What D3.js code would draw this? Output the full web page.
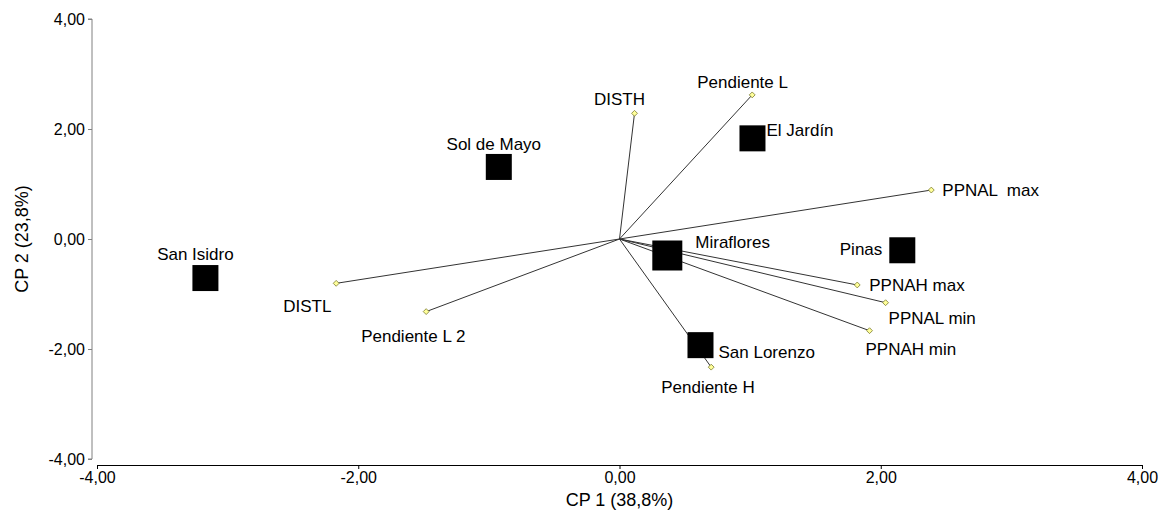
<!DOCTYPE html>
<html>
<head>
<meta charset="utf-8">
<script src="https://cdn.jsdelivr.net/npm/d3@7"></script>
<style>
  html, body { margin: 0; padding: 0; background: #fff; }
  svg text { font-family: "Liberation Sans", Arial, sans-serif; }
</style>
</head>
<body>
<svg id="chart" width="1174" height="513"></svg>
<script>
// ---- data ----
const variables = ["DISTH", "Pendiente L", "PPNAL  max", "PPNAH max", "PPNAL min", "PPNAH min", "DISTL", "Pendiente L 2", "Pendiente H"];
const varCP1 = [0.115, 1.016, 2.387, 1.82, 2.037, 1.914, -2.169, -1.48, 0.702];
const varCP2 = [2.285, 2.62, 0.89, -0.836, -1.158, -1.667, -0.806, -1.32, -2.33];

const sites = ["El Jardín", "Miraflores", "Pinas", "San Lorenzo", "Sol de Mayo", "San Isidro"];
const siteCP1 = [1.018, 0.366, 2.165, 0.62, -0.924, -3.17];
const siteCP2 = [1.83, -0.3, -0.205, -1.93, 1.31, -0.71];

const xTicks = [-4, -2, 0, 2, 4];
const yTicks = [-4, -2, 0, 2, 4];
const xTickLabels = ["-4,00", "-2,00", "0,00", "2,00", "4,00"];
const yTickLabels = ["-4,00", "-2,00", "0,00", "2,00", "4,00"];
const xTitle = "CP 1 (38,8%)";
const yTitle = "CP 2 (23,8%)";

// ---- label placement (presentation only) ----
const varLabelPos = {
  "DISTH": [-15, -8, "middle"],
  "Pendiente L": [-55, -7, "start"],
  "PPNAL  max": [11, 6, "start"],
  "PPNAH max": [12, 6, "start"],
  "PPNAL min": [3, 21, "start"],
  "PPNAH min": [-4, 24, "start"],
  "DISTL": [-53, 29, "start"],
  "Pendiente L 2": [-65, 30, "start"],
  "Pendiente H": [-50, 26, "start"]
};
const siteLabelPos = {
  "El Jardín": [14, -2, "start"],
  "Miraflores": [28, -8, "start"],
  "Pinas": [-20, 5, "end"],
  "San Lorenzo": [18, 13, "start"],
  "Sol de Mayo": [-5, -17, "middle"],
  "San Isidro": [-10, -18, "middle"]
};
const siteSize = { "Miraflores": 30 };

// ---- drawing ----
const svg = d3.select("#chart");
const x = d3.scaleLinear().domain([-4, 4]).range([97, 1142]);
const y = d3.scaleLinear().domain([-4, 4]).range([459, 19]);
const FS_TICK = 16, FS_LABEL = 17, FS_TITLE = 18;
const FONT = '"Liberation Sans", Arial, sans-serif';

// y axis
const yAxis = svg.append("g").attr("transform", "translate(92,0)")
  .call(d3.axisLeft(y).tickValues(yTicks).tickSize(4).tickPadding(3)
    .tickFormat((d, i) => yTickLabels[i]));
yAxis.select(".domain").attr("stroke", "#808080").attr("d", `M-4,${y(4)}H0V${y(-4)}H-4`);
yAxis.selectAll(".tick line").attr("stroke", "#808080");
yAxis.selectAll("text").attr("font-size", FS_TICK).attr("fill", "#000").style("font-family", FONT);

// x axis
const xAxis = svg.append("g").attr("transform", "translate(0,465)")
  .call(d3.axisBottom(x).tickValues(xTicks).tickSize(4).tickPadding(3)
    .tickFormat((d, i) => xTickLabels[i]));
xAxis.select(".domain").attr("stroke", "#000");
xAxis.selectAll(".tick line").attr("stroke", "#000");
xAxis.selectAll("text").attr("font-size", FS_TICK).attr("fill", "#000").style("font-family", FONT);

// axis titles
svg.append("text").attr("x", x(0)).attr("y", 506).attr("text-anchor", "middle")
  .attr("font-size", FS_TITLE).text(xTitle);
svg.append("text").attr("transform", `translate(28,${y(0)}) rotate(-90)`)
  .attr("text-anchor", "middle").attr("font-size", FS_TITLE).text(yTitle);

// vectors
const vars = variables.map((n, i) => ({ name: n, cx: varCP1[i], cy: varCP2[i] }));
svg.append("g").selectAll("line").data(vars).join("line")
  .attr("x1", x(0)).attr("y1", y(0))
  .attr("x2", d => x(d.cx)).attr("y2", d => y(d.cy))
  .attr("stroke", "#333").attr("stroke-width", 1);

// sites
const st = sites.map((n, i) => ({ name: n, cx: siteCP1[i], cy: siteCP2[i] }));
svg.append("g").selectAll("rect").data(st).join("rect")
  .attr("x", d => x(d.cx) - (siteSize[d.name] || 26) / 2)
  .attr("y", d => y(d.cy) - (siteSize[d.name] || 26) / 2)
  .attr("width", d => siteSize[d.name] || 26)
  .attr("height", d => siteSize[d.name] || 26)
  .attr("fill", "#000");

// vector end markers (diamonds)
svg.append("g").selectAll("path").data(vars).join("path")
  .attr("d", d3.symbol(d3.symbolDiamond2, 22))
  .attr("transform", d => `translate(${x(d.cx)},${y(d.cy)})`)
  .attr("fill", "#ffff99").attr("stroke", "#7a7a30").attr("stroke-width", 0.8);

// labels
svg.append("g").selectAll("text").data(vars).join("text")
  .attr("x", d => x(d.cx) + varLabelPos[d.name][0])
  .attr("y", d => y(d.cy) + varLabelPos[d.name][1])
  .attr("text-anchor", d => varLabelPos[d.name][2])
  .attr("font-size", FS_LABEL).style("white-space", "pre").attr("xml:space", "preserve")
  .text(d => d.name);

svg.append("g").selectAll("text").data(st).join("text")
  .attr("x", d => x(d.cx) + siteLabelPos[d.name][0])
  .attr("y", d => y(d.cy) + siteLabelPos[d.name][1])
  .attr("text-anchor", d => siteLabelPos[d.name][2])
  .attr("font-size", FS_LABEL)
  .text(d => d.name);
</script>
</body>
</html>
